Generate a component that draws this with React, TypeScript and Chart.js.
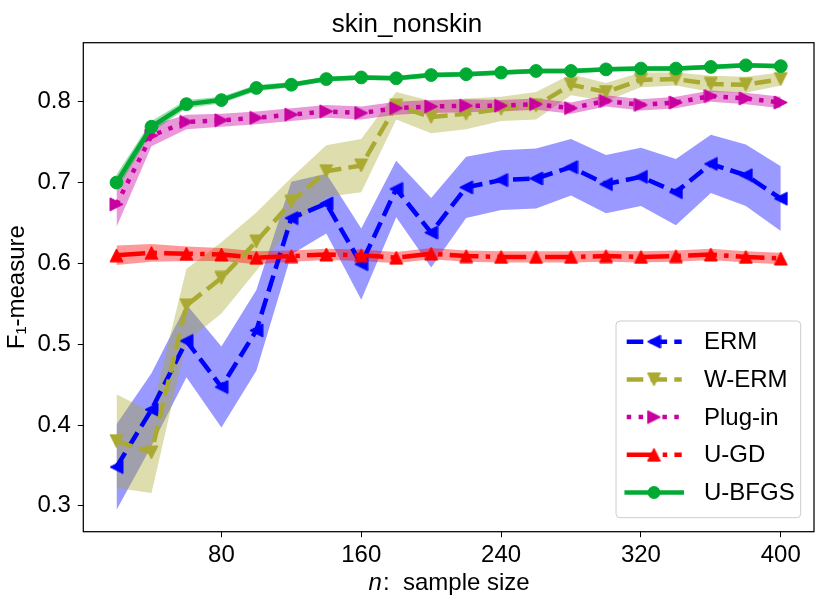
import React, { useEffect, useRef } from 'react'
import { Chart, registerables } from 'chart.js'

Chart.register(...registerables)

const sampleSizes = [20, 40, 60, 80, 100, 120, 140, 160, 180, 200, 220, 240, 260, 280, 300, 320, 340, 360, 380, 400]
const xTicks = [80, 160, 240, 320, 400]
const yTicks = [0.3, 0.4, 0.5, 0.6, 0.7, 0.8]

const ermMean = [0.348, 0.419, 0.504, 0.447, 0.517, 0.656, 0.674, 0.599, 0.692, 0.638, 0.694, 0.703, 0.705, 0.719, 0.698, 0.707, 0.688, 0.723, 0.709, 0.68]
const ermStd = [0.053, 0.045, 0.045, 0.05, 0.05, 0.045, 0.037, 0.044, 0.035, 0.043, 0.038, 0.037, 0.037, 0.035, 0.036, 0.036, 0.041, 0.036, 0.038, 0.04]

const wermMean = [0.38, 0.366, 0.548, 0.582, 0.627, 0.676, 0.714, 0.721, 0.795, 0.781, 0.785, 0.791, 0.795, 0.821, 0.812, 0.827, 0.828, 0.822, 0.821, 0.828]
const wermStd = [0.058, 0.05, 0.045, 0.044, 0.036, 0.03, 0.032, 0.033, 0.017, 0.02, 0.019, 0.015, 0.017, 0.013, 0.011, 0.009, 0.008, 0.01, 0.01, 0.008]

const pluginMean = [0.673, 0.758, 0.775, 0.777, 0.78, 0.784, 0.788, 0.786, 0.792, 0.794, 0.795, 0.795, 0.797, 0.792, 0.801, 0.796, 0.799, 0.807, 0.804, 0.799]
const pluginStd = [0.028, 0.013, 0.009, 0.008, 0.008, 0.008, 0.008, 0.008, 0.008, 0.008, 0.008, 0.007, 0.007, 0.007, 0.007, 0.007, 0.007, 0.007, 0.007, 0.007]

const ugdMean = [0.61, 0.613, 0.612, 0.611, 0.607, 0.609, 0.611, 0.61, 0.607, 0.612, 0.609, 0.608, 0.608, 0.608, 0.609, 0.608, 0.609, 0.611, 0.608, 0.606]
const ugdStd = [0.012, 0.011, 0.009, 0.008, 0.008, 0.007, 0.007, 0.007, 0.007, 0.007, 0.007, 0.007, 0.007, 0.007, 0.007, 0.007, 0.007, 0.007, 0.007, 0.007]

const ubfgsMean = [0.7, 0.769, 0.797, 0.802, 0.817, 0.821, 0.828, 0.83, 0.829, 0.833, 0.834, 0.836, 0.838, 0.838, 0.84, 0.841, 0.841, 0.843, 0.845, 0.844]
const ubfgsStd = [0.01, 0.007, 0.005, 0.004, 0.004, 0.003, 0.003, 0.003, 0.003, 0.003, 0.003, 0.003, 0.003, 0.003, 0.003, 0.003, 0.003, 0.003, 0.003, 0.003]

const FONT = '"Liberation Sans", "DejaVu Sans", sans-serif'
const LW = 4.5

// matplotlib-like triangle marker (bbox-centred), rotated by pointRotation
function triangleMarker(color: string): HTMLCanvasElement {
  const c = document.createElement('canvas')
  c.width = 15
  c.height = 15
  const ctx = c.getContext('2d')!
  ctx.beginPath()
  ctx.moveTo(7.5, 1)
  ctx.lineTo(1, 14)
  ctx.lineTo(14, 14)
  ctx.closePath()
  ctx.fillStyle = color
  ctx.strokeStyle = color
  ctx.lineWidth = 1
  ctx.lineJoin = 'miter'
  ctx.fill()
  ctx.stroke()
  return c
}

interface Series {
  label: string
  mean: number[]
  std: number[]
  color: string
  band: string
  dash: number[]
  marker: 'triangle' | 'circle'
  rotation: number
}

const series: Series[] = [
  { label: 'ERM', mean: ermMean, std: ermStd, color: '#0000ff', band: 'rgba(0,0,255,0.4)', dash: [16.6, 7.2], marker: 'triangle', rotation: 270 },
  { label: 'W-ERM', mean: wermMean, std: wermStd, color: '#aaaa33', band: 'rgba(170,170,51,0.4)', dash: [16.6, 7.2], marker: 'triangle', rotation: 180 },
  { label: 'Plug-in', mean: pluginMean, std: pluginStd, color: '#c800a0', band: 'rgba(200,0,160,0.4)', dash: [4.5, 7.4], marker: 'triangle', rotation: 90 },
  { label: 'U-GD', mean: ugdMean, std: ugdStd, color: '#ff0000', band: 'rgba(255,0,0,0.4)', dash: [28.8, 7.2, 4.5, 7.2], marker: 'triangle', rotation: 0 },
  { label: 'U-BFGS', mean: ubfgsMean, std: ubfgsStd, color: '#00aa33', band: 'rgba(0,170,51,0.4)', dash: [], marker: 'circle', rotation: 0 }
]

const App: React.FC = () => {
  const chartRef = useRef<Chart | null>(null)
  const canvasRef = useRef<HTMLCanvasElement | null>(null)

  useEffect(() => {
    if (!canvasRef.current) return
    if (chartRef.current) chartRef.current.destroy()

    const markers = series.map(s => (s.marker === 'triangle' ? triangleMarker(s.color) : 'circle'))

    const datasets: any[] = []
    series.forEach((s, i) => {
      datasets.push({
        label: s.label,
        data: sampleSizes.map((x, k) => ({ x, y: s.mean[k] })),
        borderColor: s.color,
        backgroundColor: s.color,
        borderWidth: LW,
        borderDash: s.dash,
        borderCapStyle: s.dash.length ? 'butt' : 'square',
        borderJoinStyle: 'round',
        pointStyle: markers[i],
        pointRotation: s.rotation,
        pointRadius: 6.4,
        pointBackgroundColor: s.color,
        pointBorderColor: s.color,
        pointBorderWidth: 1,
        fill: false,
        tension: 0,
        order: 10 - i
      })
    })
    series.forEach((s, i) => {
      datasets.push({
        label: s.label + ' upper',
        data: sampleSizes.map((x, k) => ({ x, y: s.mean[k] + s.std[k] })),
        borderColor: 'rgba(0,0,0,0)',
        borderWidth: 0,
        pointRadius: 0,
        backgroundColor: s.band,
        fill: '+1',
        tension: 0,
        order: 100 - i
      })
      datasets.push({
        label: s.label + ' lower',
        data: sampleSizes.map((x, k) => ({ x, y: s.mean[k] - s.std[k] })),
        borderColor: 'rgba(0,0,0,0)',
        borderWidth: 0,
        pointRadius: 0,
        backgroundColor: s.band,
        fill: false,
        tension: 0,
        order: 100 - i
      })
    })

    const framePlugin = {
      id: 'frame',
      afterDatasetsDraw(chart: Chart) {
        const { ctx, chartArea: a } = chart
        ctx.save()
        ctx.strokeStyle = '#000'
        ctx.lineWidth = 1.25
        ctx.strokeRect(a.left, a.top, a.right - a.left, a.bottom - a.top)
        ctx.restore()
      }
    }

    const xTitlePlugin = {
      id: 'xTitle',
      afterDraw(chart: Chart) {
        const { ctx, chartArea: a } = chart
        ctx.save()
        ctx.fillStyle = '#000'
        ctx.textBaseline = 'alphabetic'
        ctx.textAlign = 'left'
        const italic = 'italic 24px ' + FONT
        const normal = '24px ' + FONT
        ctx.font = italic
        const wn = ctx.measureText('n').width
        ctx.font = normal
        const rest = ':  sample size'
        const wr = ctx.measureText(rest).width
        const x0 = (a.left + a.right) / 2 - (wn + wr) / 2
        ctx.font = italic
        ctx.fillText('n', x0, 590)
        ctx.font = normal
        ctx.fillText(rest, x0 + wn + 1, 590)
        ctx.restore()
      }
    }

    const legendPlugin = {
      id: 'mplLegend',
      afterDraw(chart: Chart) {
        const { ctx, chartArea: a } = chart
        const w = 184.7
        const h = 196.7
        const right = a.right - 13.3
        const bottom = a.bottom - 14
        const left = right - w
        const top = bottom - h
        ctx.save()
        ctx.beginPath()
        ctx.roundRect(left, top, w, h, 4)
        ctx.fillStyle = 'rgba(255,255,255,0.8)'
        ctx.fill()
        ctx.strokeStyle = '#cccccc'
        ctx.lineWidth = 1
        ctx.stroke()
        series.forEach((s, i) => {
          const y = top + 20.7 + i * 37.7
          ctx.beginPath()
          ctx.setLineDash(s.dash)
          ctx.lineCap = s.dash.length ? 'butt' : 'square'
          ctx.strokeStyle = s.color
          ctx.lineWidth = LW
          ctx.moveTo(left + 10.7, y)
          ctx.lineTo(left + 65.7, y)
          ctx.stroke()
          ctx.setLineDash([])
          const mx = left + 38
          const m = markers[i]
          if (typeof m === 'string') {
            ctx.beginPath()
            ctx.arc(mx, y, 6.4, 0, Math.PI * 2)
            ctx.fillStyle = s.color
            ctx.fill()
          } else {
            ctx.save()
            ctx.translate(mx, y)
            ctx.rotate((s.rotation * Math.PI) / 180)
            ctx.drawImage(m, -m.width / 2, -m.height / 2)
            ctx.restore()
          }
          ctx.fillStyle = '#000'
          ctx.font = '24px ' + FONT
          ctx.textBaseline = 'middle'
          ctx.textAlign = 'left'
          ctx.fillText(s.label, left + 88, y + 1)
        })
        ctx.restore()
      }
    }

    chartRef.current = new Chart(canvasRef.current, {
      type: 'line',
      data: { datasets },
      options: {
        animation: false,
        responsive: true,
        maintainAspectRatio: false,
        events: [],
        layout: { padding: { left: 0, right: 17, top: 0, bottom: 0 } },
        plugins: {
          legend: { display: false },
          tooltip: { enabled: false },
          title: {
            display: true,
            text: 'skin_nonskin',
            color: '#000',
            font: { family: FONT, size: 26, weight: 'normal' },
            padding: { top: 9.4, bottom: 2.1 }
          }
        },
        scales: {
          x: {
            type: 'linear',
            min: 1,
            max: 419,
            afterBuildTicks: (scale: any) => {
              scale.ticks = xTicks.map(v => ({ value: v }))
            },
            afterFit: (scale: any) => {
              scale.height = 75.3
            },
            grid: { drawOnChartArea: false, drawTicks: true, tickLength: 5.5, color: '#000', lineWidth: 1 },
            border: { display: false },
            ticks: {
              color: '#000',
              font: { family: FONT, size: 24 },
              padding: 3.8,
              maxRotation: 0,
              callback: (v: any) => String(v)
            }
          },
          y: {
            type: 'linear',
            min: 0.268,
            max: 0.873,
            afterBuildTicks: (scale: any) => {
              scale.ticks = yTicks.map(v => ({ value: v }))
            },
            afterFit: (scale: any) => {
              scale.width = 83.3
            },
            grid: { drawOnChartArea: false, drawTicks: true, tickLength: 5.5, color: '#000', lineWidth: 1 },
            border: { display: false },
            title: {
              display: true,
              text: 'F₁-measure',
              color: '#000',
              font: { family: FONT, size: 24 },
              padding: { top: 2.5, bottom: 0 }
            },
            ticks: {
              color: '#000',
              font: { family: FONT, size: 24 },
              padding: 7,
              callback: (v: any) => Number(v).toFixed(1)
            }
          }
        }
      },
      plugins: [framePlugin, xTitlePlugin, legendPlugin]
    })

    return () => {
      if (chartRef.current) {
        chartRef.current.destroy()
        chartRef.current = null
      }
    }
  }, [])

  return (
    <div style={{ position: 'absolute', left: 0, top: 0, width: 831, height: 607, background: '#fff' }}>
      <canvas ref={canvasRef}></canvas>
    </div>
  )
}

export default App
